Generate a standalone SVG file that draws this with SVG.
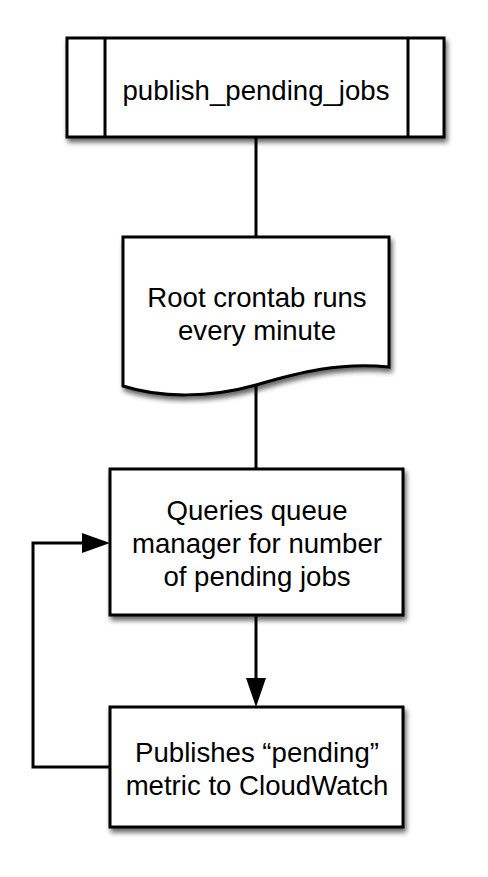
<svg xmlns="http://www.w3.org/2000/svg" width="488" height="877" viewBox="0 0 488 877">
<style>
.shape{fill:#fff;stroke:#000;stroke-width:3;filter:url(#sh)}
.ln{fill:none;stroke:#000;stroke-width:3}
text{font-family:"Liberation Sans",Arial,sans-serif;font-size:27.6px;fill:#000;text-anchor:middle}
</style>
<defs>
<filter id="sh" x="-10%" y="-10%" width="130%" height="130%">
<feGaussianBlur in="SourceAlpha" stdDeviation="2.5"/>
<feOffset dx="2" dy="4" result="b"/>
<feComponentTransfer><feFuncA type="linear" slope="0.6"/></feComponentTransfer>
<feMerge><feMergeNode/><feMergeNode in="SourceGraphic"/></feMerge>
</filter>
</defs>
<g id="connectors">
<path class="ln" d="M256,137 V237"/>
<path class="ln" d="M256,385 V469"/>
<path class="ln" d="M256,615 V680"/>
<path d="M246,678 L266,678 L256,707 Z" fill="#000"/>
<path class="ln" d="M110,767 H33 V543 H84"/>
<path d="M82,533 L110,543 L82,553 Z" fill="#000"/>
</g>
<g id="node1">
<rect class="shape" x="67" y="38" width="377" height="99"/>
<path class="ln" d="M105,38 V137 M408,38 V137"/>
<text x="256" y="100">publish_pending_jobs</text>
</g>
<g id="node2">
<path class="shape" d="M123,237 H389 V367 C340,362 300,372 256,385 C210,398 160,398 123,386 Z"/>
<text x="257" y="307">Root crontab runs</text>
<text x="257" y="340">every minute</text>
</g>
<g id="node3">
<rect class="shape" x="110" y="469" width="293" height="146"/>
<text x="257" y="520">Queries queue</text>
<text x="257" y="553">manager for number</text>
<text x="257" y="586">of pending jobs</text>
</g>
<g id="node4">
<rect class="shape" x="110" y="707" width="293" height="120"/>
<text x="257" y="762">Publishes “pending”</text>
<text x="257" y="795">metric to CloudWatch</text>
</g>
</svg>
